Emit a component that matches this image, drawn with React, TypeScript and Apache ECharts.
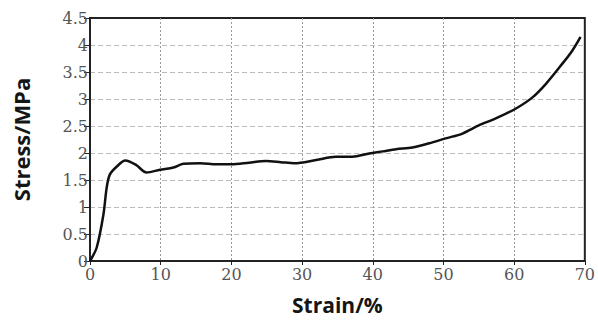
import React, { useEffect, useRef } from "react";
import * as echarts from "echarts";

const strain = [0, 0.95, 1.9, 2.35, 2.8, 3.8, 5.0, 6.5, 8.0, 9.9, 11.8, 13.2, 15.6, 17.9, 20, 22.5, 24.9, 27, 28.9, 32, 34.8, 37.1, 39.5, 41.4, 43.3, 45.6, 48, 50.3, 52.7, 55, 57.4, 60.2, 62.6, 64.5, 66.8, 68.2, 69.4];
const stress = [0, 0.25, 0.86, 1.35, 1.6, 1.75, 1.86, 1.78, 1.64, 1.69, 1.73, 1.8, 1.81, 1.79, 1.79, 1.82, 1.85, 1.83, 1.81, 1.87, 1.93, 1.93, 1.99, 2.03, 2.07, 2.1, 2.18, 2.27, 2.36, 2.51, 2.64, 2.82, 3.03, 3.28, 3.65, 3.89, 4.15];
const xTicks = [0, 10, 20, 30, 40, 50, 60, 70];
const yTicks = [0, 0.5, 1, 1.5, 2, 2.5, 3, 3.5, 4, 4.5];

export default function App() {
  const ref = useRef<HTMLDivElement>(null);
  useEffect(() => {
    const chart = echarts.init(ref.current!, null, { renderer: "svg" });
    const labelStyle = { fontFamily: "'DejaVu Serif', serif", fontSize: 16, color: "#555" };
    const nameStyle = { fontFamily: "'Open Sans', sans-serif", fontWeight: "bold" as const, color: "#151515" };
    chart.setOption({
      animation: false,
      backgroundColor: "#fff",
      grid: { left: 90, right: 12, top: 18, bottom: 56, show: true, borderColor: "#222", borderWidth: 2, backgroundColor: "transparent" },
      xAxis: {
        type: "value",
        min: 0,
        max: 70,
        interval: 10,
        name: "Strain/%",
        nameLocation: "middle",
        nameGap: 33,
        nameTextStyle: { ...nameStyle, fontSize: 21 },
        axisLine: { show: true, lineStyle: { color: "#222", width: 2 } },
        axisTick: { show: true, length: 4, lineStyle: { color: "#222" } },
        axisLabel: { ...labelStyle, margin: 5, formatter: (v: number) => (xTicks.includes(v) ? String(v) : "") },
        splitLine: { show: true, showMinLine: false, showMaxLine: false, lineStyle: { color: "#999", type: [2, 2] as any, width: 1 } },
      },
      yAxis: {
        type: "value",
        min: 0,
        max: 4.5,
        interval: 0.5,
        name: "Stress/MPa",
        nameLocation: "middle",
        nameGap: 58,
        nameTextStyle: { ...nameStyle, fontSize: 22 },
        axisLine: { show: true, lineStyle: { color: "#222", width: 2 } },
        axisTick: { show: true, length: 6, lineStyle: { color: "#222" } },
        axisLabel: { ...labelStyle, margin: 2, formatter: (v: number) => (yTicks.includes(v) ? String(v) : "") },
        splitLine: { show: true, showMinLine: false, showMaxLine: false, lineStyle: { color: "#bbb", type: [5, 3] as any, width: 1 } },
      },
      series: [
        {
          type: "line",
          data: strain.map((x, i) => [x, stress[i]]),
          showSymbol: false,
          smooth: 0.3,
          lineStyle: { color: "#111", width: 2.5 },
        },
      ],
    });
    return () => chart.dispose();
  }, []);
  return <div ref={ref} style={{ width: 598, height: 320, position: "absolute", left: 0, top: 0 }} />;
}
